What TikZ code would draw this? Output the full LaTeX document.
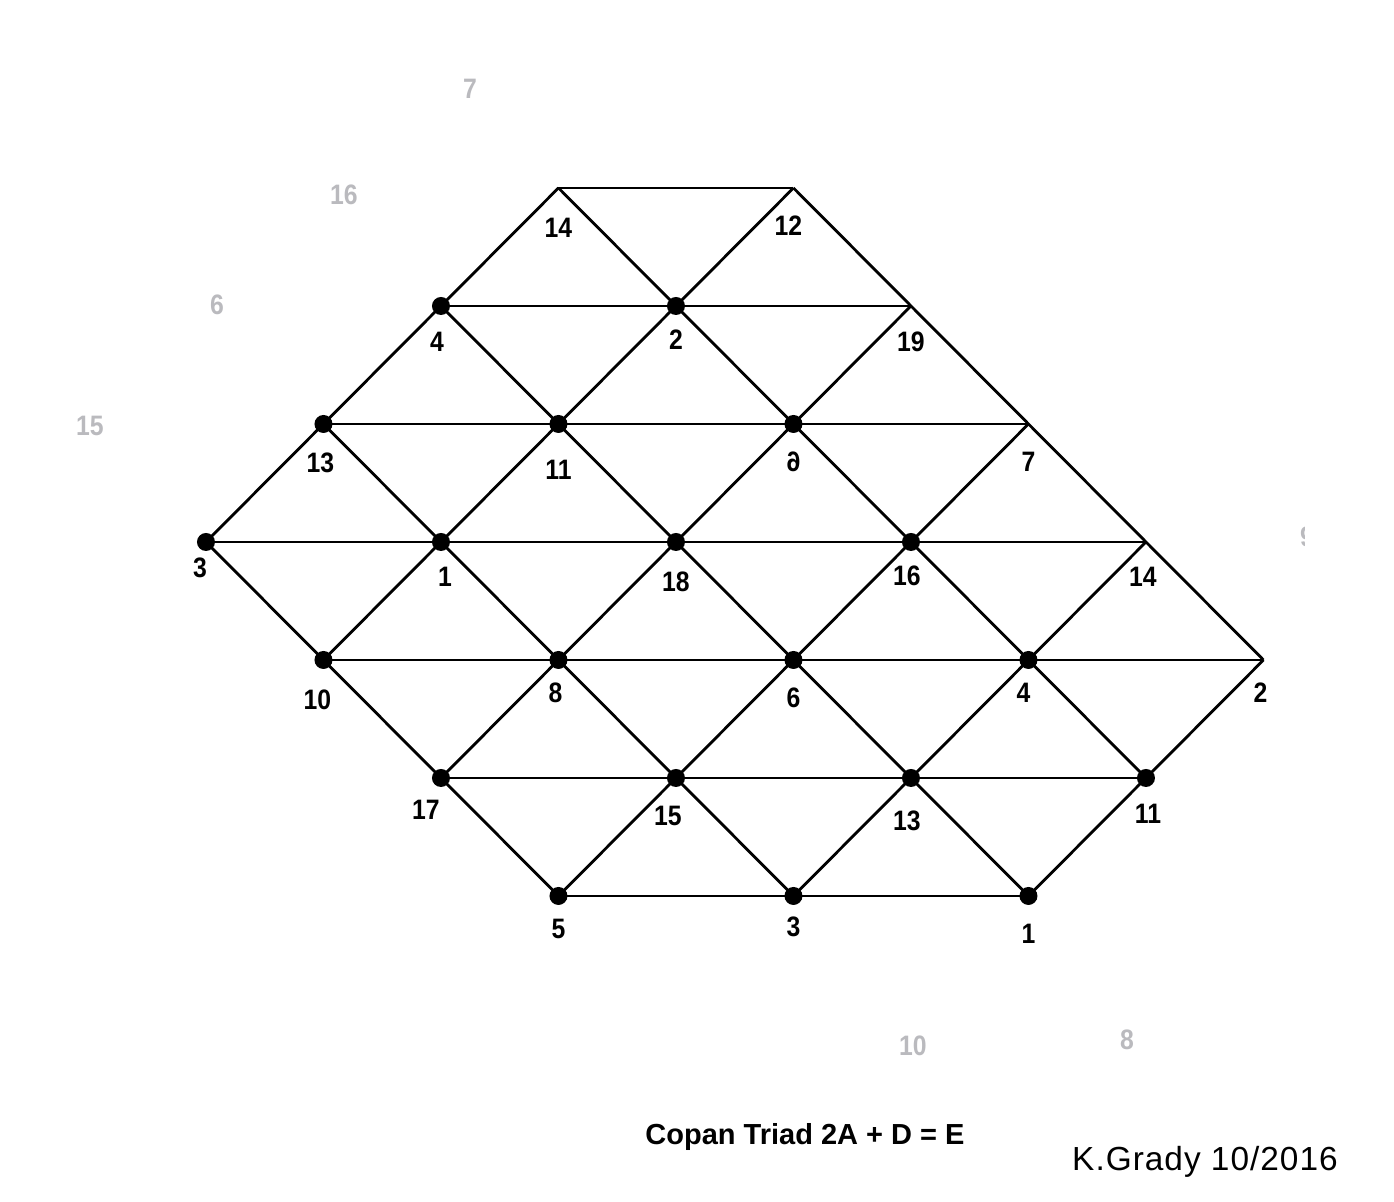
\documentclass[tikz,border=0pt]{standalone}
\usepackage{fontspec}
\setmainfont{Liberation Sans}
\newfontfamily\numfont{Liberation Sans}[FakeStretch=0.88]
\newfontfamily\signfont{Liberation Sans}[LetterSpace=3]
\usepackage{graphicx}
\usetikzlibrary{positioning}
\definecolor{ghost}{RGB}{186,186,190}
\tikzset{
  edge line/.style={line width=1.6pt},
  lbl/.style={font=\numfont\fontsize{16}{18}\selectfont\bfseries, inner sep=0pt},
  faded/.style={lbl, text=ghost},
}
\begin{document}
\begin{tikzpicture}[x=2.35cm, y=2.36cm]
\useasboundingbox (-1.753,1.593) rectangle (10.111,-8.593);
% lattice points, named n<column><row>
\foreach \i/\r in {3/0,5/0, 2/1,4/1,6/1, 1/2,3/2,5/2,7/2, 0/3,2/3,4/3,6/3,8/3,
                   1/4,3/4,5/4,7/4,9/4, 2/5,4/5,6/5,8/5, 3/6,5/6,7/6}
  \coordinate (n\i\r) at (\i,-\r);
% rows
\draw[edge line] (n30) -- (n50) (n21) -- (n61) (n12) -- (n72) (n03) -- (n83)
                 (n14) -- (n94) (n25) -- (n85) (n36) -- (n76);
% falling diagonals
\draw[edge line] (n30) -- (n85) (n21) -- (n76) (n12) -- (n56) (n03) -- (n36) (n50) -- (n94);
% rising diagonals
\draw[edge line] (n03) -- (n30) (n14) -- (n50) (n25) -- (n61) (n36) -- (n72)
                 (n56) -- (n83) (n76) -- (n94);
% dots
\foreach \p in {21,41,12,32,52,03,23,43,63,14,34,54,74,25,45,65,85,36,56,76}
  \fill (n\p) circle (0.18cm);
% numbers
\node[lbl, below=0.60cm of n30] (l30) {14};
\node[lbl, below=0.56cm of n50, xshift=-0.1cm] (l50) {12};
\node[lbl, below=0.52cm of n21, xshift=-0.08cm] (l21) {4};
\node[lbl, below=0.48cm of n41] (l41) {2};
\node[lbl, below=0.52cm of n61] (l61) {19};
\node[lbl, below=0.58cm of n12, xshift=-0.06cm] (l12) {13};
\node[lbl, below=0.72cm of n32] (l32) {11};
\node[lbl, below=0.56cm of n52] (l52) {\reflectbox{6}};
\node[lbl, below=0.56cm of n72] (l72) {7};
\node[lbl, below=0.32cm of n03, xshift=-0.12cm] (l03) {3};
\node[lbl, below=0.50cm of n23, xshift=0.08cm] (l23) {1};
\node[lbl, below=0.60cm of n43] (l43) {18};
\node[lbl, below=0.48cm of n63, xshift=-0.08cm] (l63) {16};
\node[lbl, below=0.50cm of n83, xshift=-0.06cm] (l83) {14};
\node[lbl, below=0.60cm of n14, xshift=-0.12cm] (l14) {10};
\node[lbl, below=0.46cm of n34, xshift=-0.06cm] (l34) {8};
\node[lbl, below=0.56cm of n54] (l54) {6};
\node[lbl, below=0.46cm of n74, xshift=-0.1cm] (l74) {4};
\node[lbl, below=0.46cm of n94, xshift=-0.06cm] (l94) {2};
\node[lbl, below=0.44cm of n25, xshift=-0.3cm] (l25) {17};
\node[lbl, below=0.56cm of n45, xshift=-0.16cm] (l45) {15};
\node[lbl, below=0.66cm of n65, xshift=-0.08cm] (l65) {13};
\node[lbl, below=0.52cm of n85, xshift=0.04cm] (l85) {11};
\node[lbl, below=0.46cm of n36] (l36) {5};
\node[lbl, below=0.42cm of n56] (l56) {3};
\node[lbl, below=0.56cm of n76] (l76) {1};
% faded numbers
\node[faded] (g7) at (2.247,0.839) {7};
\node[faded] (g16) at (1.174,-0.059) {16};
\node[faded] (g6) at (0.094,-0.992) {6};
\node[faded] (g15) at (-0.987,-2.017) {15};
\node[faded] (g10) at (6.017,-7.271) {10};
\node[faded] (g8) at (7.838,-7.220) {8};
\begin{scope}
  \clip (9.2,-2.85) rectangle (9.345,-3.07);
  \node[faded] (g9) at (9.37,-2.958) {9};
\end{scope}
% caption
\node[font=\fontsize{16.5}{18}\selectfont\bfseries] (title) at (5.098,-8.042) {Copan Triad 2A + D = E};
\node[font=\signfont\fontsize{19}{21}\selectfont] (sign) at (8.502,-8.254) {K.Grady 10/2016};
\end{tikzpicture}
\end{document}
